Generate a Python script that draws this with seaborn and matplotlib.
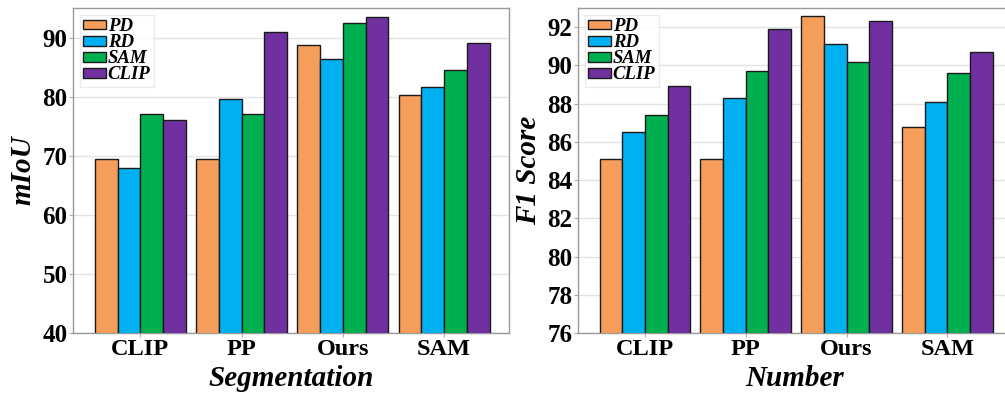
import matplotlib
matplotlib.use("Agg")
import matplotlib.pyplot as plt
import seaborn as sns
import pandas as pd

categories = ["CLIP", "PP", "Ours", "SAM"]
methods = ["PD", "RD", "SAM", "CLIP"]
colors = ["#F59E5B", "#00B0F0", "#00B050", "#7030A0"]

# mIoU per category (rows follow `methods`)
seg_pd = [69.4, 69.4, 88.7, 80.2]
seg_rd = [68.0, 79.6, 86.3, 81.6]
seg_sam = [77.0, 77.0, 92.4, 84.5]
seg_clip = [76.0, 91.0, 93.4, 89.1]

# F1 score per category
num_pd = [85.1, 85.1, 92.6, 86.8]
num_rd = [86.5, 88.3, 91.1, 88.1]
num_sam = [87.4, 89.7, 90.2, 89.6]
num_clip = [88.9, 91.9, 92.3, 90.7]

seg_ticks = [40, 50, 60, 70, 80, 90]
num_ticks = [76, 78, 80, 82, 84, 86, 88, 90, 92]


def long_frame(series):
    rows = []
    for m, vals in zip(methods, series):
        for c, v in zip(categories, vals):
            rows.append({"cat": c, "method": m, "value": v})
    return pd.DataFrame(rows)


sns.set_theme(style="whitegrid")
plt.rcParams["font.family"] = ["Liberation Serif", "DejaVu Serif"]
plt.rcParams["text.color"] = "black"
plt.rcParams["axes.labelcolor"] = "black"
plt.rcParams["xtick.labelcolor"] = "black"
plt.rcParams["ytick.labelcolor"] = "black"

fig = plt.figure(figsize=(10.05, 3.94), dpi=100)
ax1 = fig.add_axes([0.0726, 0.1548, 0.4338, 0.8249])
ax2 = fig.add_axes([0.5751, 0.1548, 0.4318, 0.8249])

panels = [
    (ax1, long_frame([seg_pd, seg_rd, seg_sam, seg_clip]), "mIoU", "Segmentation",
     (40, 95), seg_ticks, (-0.665, 3.64)),
    (ax2, long_frame([num_pd, num_rd, num_sam, num_clip]), "F1 Score", "Number",
     (76, 93), num_ticks, (-0.665, 3.64)),
]

for ax, df, ylab, xlab, ylim, yticks, xlim in panels:
    sns.barplot(data=df, x="cat", y="value", hue="method", order=categories,
                hue_order=methods, palette=colors, saturation=1, width=0.9, gap=0,
                edgecolor="#1a1a1a", linewidth=1.0, ax=ax, zorder=3)
    ax.set_ylim(*ylim)
    ax.set_xlim(*xlim)
    ax.set_yticks(yticks)
    ax.set_yticklabels([str(t) for t in yticks], fontsize=18, fontweight="bold")
    ax.set_xticks(range(len(categories)))
    ax.set_xticklabels(categories, fontsize=17.5, fontweight="bold")
    ax.set_ylabel(ylab, fontsize=21, fontweight="bold", style="italic", labelpad=4)
    ax.set_xlabel(xlab, fontsize=21, fontweight="bold", style="italic", labelpad=4)
    ax.grid(axis="y", color="#e3e3e3", linewidth=1.0, zorder=0)
    ax.grid(axis="x", visible=False)
    ax.set_axisbelow(True)
    ax.tick_params(axis="both", length=3, width=0.8, color="#aaaaaa", pad=1,
                   labelcolor="black", left=True, bottom=True)
    for s in ax.spines.values():
        s.set_color("#9a9a9a")
        s.set_linewidth(1.0)
    leg = ax.legend(loc="upper left", bbox_to_anchor=(0.0, 1.0),
                    prop={"family": ["Liberation Serif"], "weight": "bold",
                          "style": "italic", "size": 13.5},
                    handlelength=1.2, handleheight=0.42, handletextpad=0.1,
                    labelspacing=-0.05, borderpad=0.2, borderaxespad=0.35,
                    frameon=True, fancybox=False)
    for t in leg.get_texts():
        t.set_color("black")
    leg.get_frame().set_edgecolor("#e6e6e6")
    leg.get_frame().set_linewidth(1.0)

fig.savefig("out.png", dpi=100)
